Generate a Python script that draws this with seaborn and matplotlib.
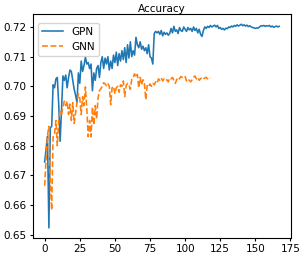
import numpy as np
import pandas as pd
import matplotlib
matplotlib.use('Agg')
import matplotlib.pyplot as plt
import seaborn as sns

# accuracy per epoch
gpn_acc = [
    0.6745, 0.6790, 0.6832, 0.6523, 0.6860, 0.6865, 0.7005, 0.6995, 0.7025, 0.7030,
    0.6940, 0.6815, 0.6920, 0.7035, 0.7020, 0.7038, 0.6995, 0.7030, 0.7055, 0.7050,
    0.7020, 0.6990, 0.6970, 0.6945, 0.7045, 0.7010, 0.7085, 0.7050, 0.7070, 0.7098,
    0.7075, 0.7080, 0.7060, 0.7075, 0.6985, 0.7045, 0.7020, 0.7060, 0.7070, 0.7030,
    0.7080, 0.7100, 0.7060, 0.7095, 0.7075, 0.7100, 0.7055, 0.7085, 0.7060, 0.7105,
    0.7080, 0.7115, 0.7070, 0.7110, 0.7085, 0.7120, 0.7090, 0.7130, 0.7080, 0.7140,
    0.7095, 0.7150, 0.7100, 0.7120, 0.7105, 0.7165, 0.7140, 0.7130, 0.7150, 0.7125,
    0.7135, 0.7120, 0.7130, 0.7110, 0.7140, 0.7100, 0.7095, 0.7075, 0.7178, 0.7185,
    0.7180, 0.7185, 0.7175, 0.7188, 0.7170, 0.7182, 0.7175, 0.7180, 0.7172, 0.7178,
    0.7195, 0.7180, 0.7202, 0.7185, 0.7190, 0.7178, 0.7198, 0.7188, 0.7185, 0.7200,
    0.7192, 0.7185, 0.7198, 0.7190, 0.7195, 0.7185, 0.7200, 0.7188, 0.7195, 0.7180,
    0.7192, 0.7175, 0.7168, 0.7188, 0.7200, 0.7195, 0.7202, 0.7198, 0.7205, 0.7200,
    0.7203, 0.7206, 0.7200, 0.7205, 0.7195, 0.7198, 0.7192, 0.7195, 0.7190, 0.7196,
    0.7194, 0.7200, 0.7198, 0.7203, 0.7200, 0.7205, 0.7202, 0.7207, 0.7203, 0.7206,
    0.7209, 0.7204, 0.7207, 0.7203, 0.7206, 0.7201, 0.7204, 0.7200, 0.7198, 0.7197,
    0.7195, 0.7197, 0.7196, 0.7200, 0.7204, 0.7203, 0.7205, 0.7202, 0.7204, 0.7203,
    0.7205, 0.7200, 0.7203, 0.7199, 0.7201, 0.7203, 0.7200, 0.7202,
]

gnn_acc = [
    0.6665, 0.6755, 0.6835, 0.6865, 0.6680, 0.6583, 0.6835, 0.6840, 0.6885, 0.6800,
    0.6885, 0.6915, 0.6905, 0.6930, 0.6950, 0.6935, 0.6950, 0.6905, 0.6940, 0.6885,
    0.6945, 0.6875, 0.6910, 0.6945, 0.6975, 0.6960, 0.6905, 0.6965, 0.6935, 0.6998,
    0.6925, 0.6830, 0.6885, 0.6830, 0.6930, 0.6870, 0.6935, 0.6890, 0.6960, 0.6985,
    0.6992, 0.7000, 0.7012, 0.7008, 0.7002, 0.7010, 0.7000, 0.6938, 0.6995, 0.7000,
    0.6975, 0.6995, 0.7000, 0.6980, 0.7005, 0.7000, 0.7018, 0.6965, 0.7002, 0.7010,
    0.7005, 0.6990, 0.7025, 0.7030, 0.7042, 0.7030, 0.7040, 0.6995, 0.7030, 0.7005,
    0.7022, 0.7010, 0.6955, 0.7005, 0.7000, 0.7008, 0.7000, 0.7010, 0.7005, 0.7015,
    0.7010, 0.7025, 0.7020, 0.7028, 0.7018, 0.7025, 0.7020, 0.7022, 0.7015, 0.7028,
    0.7025, 0.7030, 0.7020, 0.7010, 0.7022, 0.7030, 0.7025, 0.7033, 0.7030, 0.7028,
    0.7033, 0.7018, 0.7025, 0.7020, 0.7015, 0.7022, 0.7030, 0.7035, 0.7025, 0.7030,
    0.7020, 0.7025, 0.7030, 0.7025, 0.7028, 0.7030, 0.7025, 0.7030, 0.7028,
]

df = pd.concat([
    pd.DataFrame({'epoch': np.arange(len(gpn_acc)), 'acc': gpn_acc, 'model': 'GPN'}),
    pd.DataFrame({'epoch': np.arange(len(gnn_acc)), 'acc': gnn_acc, 'model': 'GNN'}),
], ignore_index=True)

fig = plt.figure(figsize=(3.05, 2.56), dpi=100)
ax = fig.add_axes([0.108, 0.07, 0.846, 0.875])

sns.lineplot(
    data=df, x='epoch', y='acc', hue='model', style='model',
    palette={'GPN': '#1f77b4', 'GNN': '#ff7f0e'},
    dashes={'GPN': '', 'GNN': (3.7, 1.6)},
    linewidth=1.15, ax=ax,
)

ax.set_title('Accuracy', fontsize=7.5, pad=1.5)
ax.set_xlabel('')
ax.set_ylabel('')
ax.set_xticks([0, 25, 50, 75, 100, 125, 150, 175])
ax.set_yticks([0.65, 0.66, 0.67, 0.68, 0.69, 0.70, 0.71, 0.72])
ax.tick_params(labelsize=7.5, length=2.5, pad=2)
ax.legend(loc='upper left', fontsize=7.5, handlelength=2.0,
          bbox_to_anchor=(0.0, 0.985))

fig.savefig('out.png', dpi=100)
